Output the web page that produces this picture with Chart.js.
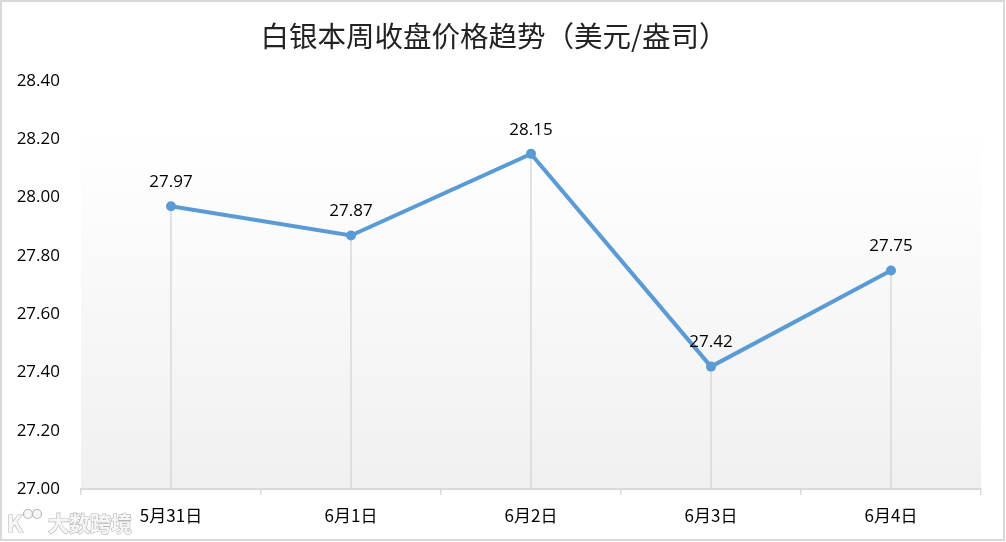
<!DOCTYPE html>
<html>
<head>
<meta charset="utf-8">
<script src="https://cdn.jsdelivr.net/npm/chart.js@4.4.1/dist/chart.umd.min.js"></script>
<style>
  html, body { margin: 0; padding: 0; background: #fff; }
  #wrap { width: 1006px; height: 542px; position: relative; }
</style>
</head>
<body>
<div id="wrap"><canvas id="silverChart"></canvas></div>
<script>
// ----------------------
// data
// ----------------------
const categories = ['5月31日', '6月1日', '6月2日', '6月3日', '6月4日'];
const closePrices = [27.97, 27.87, 28.15, 27.42, 27.75];
const yTickLabels = ['27.00', '27.20', '27.40', '27.60', '27.80', '28.00', '28.20', '28.40'];

const titleText = '白银本周收盘价格趋势（美元/盎司）';
const watermarkText = '大数跨境';

const numFont = '"Open Sans", "Noto Sans CJK SC", sans-serif';
const cjkFont = '"Noto Sans CJK SC", "Open Sans", sans-serif';
const lineColor = '#5b9bd5';
const greyLine = '#d9d9d9';

// ----------------------
// plugins
// ----------------------
const plotBackground = {
  id: 'plotBackground',
  beforeDraw(chart) {
    const { ctx, chartArea: a } = chart;
    const g = ctx.createLinearGradient(0, a.top, 0, a.bottom);
    g.addColorStop(0, '#ffffff');
    g.addColorStop(0.12, '#ffffff');
    g.addColorStop(1, '#f0f0f0');
    ctx.save();
    ctx.fillStyle = g;
    ctx.fillRect(a.left, a.top, a.right - a.left, a.bottom - a.top);
    ctx.restore();
  }
};

// grey drop lines from every point to the x axis
const dropLines = {
  id: 'dropLines',
  beforeDatasetsDraw(chart) {
    const { ctx, chartArea: a } = chart;
    const meta = chart.getDatasetMeta(0);
    ctx.save();
    ctx.strokeStyle = greyLine;
    ctx.lineWidth = 1.5;
    meta.data.forEach(pt => {
      ctx.beginPath();
      ctx.moveTo(pt.x, pt.y);
      ctx.lineTo(pt.x, a.bottom);
      ctx.stroke();
    });
    ctx.restore();
  }
};

// value labels above the points
const valueLabels = {
  id: 'valueLabels',
  afterDatasetsDraw(chart) {
    const { ctx } = chart;
    const meta = chart.getDatasetMeta(0);
    ctx.save();
    ctx.font = '17px ' + numFont;
    ctx.fillStyle = '#000';
    ctx.textAlign = 'center';
    ctx.textBaseline = 'middle';
    meta.data.forEach((pt, i) => {
      ctx.fillText(closePrices[i].toFixed(2), pt.x, pt.y - 24);
    });
    ctx.restore();
  }
};

// title, outer frame + watermark
const frameAndMark = {
  id: 'frameAndMark',
  afterDraw(chart) {
    const { ctx } = chart;
    ctx.save();
    ctx.fillStyle = '#222';
    ctx.font = '28.5px ' + cjkFont;
    ctx.textAlign = 'center';
    ctx.textBaseline = 'middle';
    ctx.fillText(titleText, 494, 36);

    ctx.strokeStyle = greyLine;
    ctx.lineWidth = 2;
    ctx.strokeRect(1, 1, chart.width - 3, chart.height - 3);

    // watermark
    ctx.lineWidth = 1.2;
    ctx.strokeStyle = '#b8b8b8';
    ctx.fillStyle = '#f6f6f6';
    ctx.font = 'bold 23px ' + cjkFont;
    ctx.textAlign = 'left';
    ctx.strokeText('K', 7, 523);
    ctx.fillText('K', 7, 523);
    [[28, 514], [37, 514]].forEach(([cx, cy]) => {
      ctx.beginPath();
      ctx.arc(cx, cy, 4.5, 0, Math.PI * 2);
      ctx.fill();
      ctx.stroke();
    });
    ctx.font = 'bold 21px ' + cjkFont;
    ctx.strokeText(watermarkText, 48, 523);
    ctx.fillText(watermarkText, 48, 523);
    ctx.restore();
  }
};

// ----------------------
// chart
// ----------------------
const ctx = document.getElementById('silverChart').getContext('2d');
new Chart(ctx, {
  type: 'line',
  data: {
    labels: categories,
    datasets: [{
      data: closePrices,
      borderColor: lineColor,
      backgroundColor: lineColor,
      borderWidth: 4,
      pointRadius: 5,
      pointHoverRadius: 5,
      pointBackgroundColor: lineColor,
      pointBorderWidth: 0,
      tension: 0,
      fill: false
    }]
  },
  options: {
    responsive: true,
    maintainAspectRatio: false,
    animation: false,
    layout: { padding: { left: 0, right: 25, top: 81, bottom: 0 } },
    plugins: {
      legend: { display: false },
      tooltip: { enabled: false },
      title: { display: false }
    },
    scales: {
      x: {
        offset: true,
        grid: {
          display: true,
          offset: true,
          drawOnChartArea: false,
          drawTicks: true,
          tickLength: 6,
          color: greyLine,
          lineWidth: 1.5
        },
        border: { display: true, color: greyLine, width: 2 },
        ticks: {
          color: '#000',
          padding: 10,
          maxRotation: 0,
          font: { family: cjkFont, size: 17 }
        },
        afterFit(scale) { scale.height = 53; }
      },
      y: {
        min: 27,
        max: 28.4,
        grid: { display: false, drawTicks: false },
        border: { display: false },
        ticks: {
          stepSize: 0.2,
          color: '#000',
          padding: 21,
          font: { family: numFont, size: 17 },
          callback: (v, i) => yTickLabels[i]
        },
        afterFit(scale) { scale.width = 81; }
      }
    }
  },
  plugins: [plotBackground, dropLines, valueLabels, frameAndMark]
});
</script>
</body>
</html>
